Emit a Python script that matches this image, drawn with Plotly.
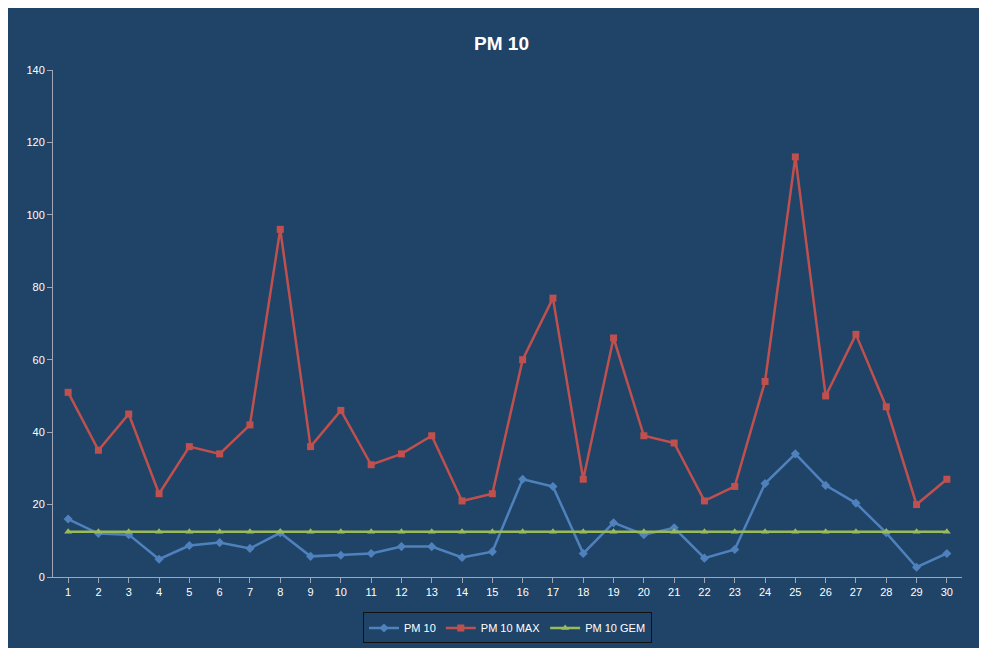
import plotly.graph_objects as go

days = list(range(1, 31))
pm10 = [16, 12, 11.7, 4.9, 8.7, 9.5, 7.9, 12.2, 5.7, 6, 6.5, 8.4, 8.4, 5.4, 7, 27, 25, 6.5, 15, 11.7, 13.6, 5.2, 7.6, 25.8, 34, 25.3, 20.4, 12.2, 2.7, 6.5]
pm10_max = [51, 35, 45, 23, 36, 34, 42, 96, 36, 46, 31, 34, 39, 21, 23, 60, 77, 27, 66, 39, 37, 21, 25, 54, 116, 50, 67, 47, 20, 27]
pm10_gem = [12.5] * 30

bg = "#1F4468"
fig = go.Figure()
fig.add_trace(go.Scatter(x=days, y=pm10, name="PM 10", mode="lines+markers",
                         line=dict(color="#4F81BD", width=2.5), marker=dict(symbol="diamond", size=7)))
fig.add_trace(go.Scatter(x=days, y=pm10_max, name="PM 10 MAX", mode="lines+markers",
                         line=dict(color="#C0504D", width=2.5), marker=dict(symbol="square", size=7)))
fig.add_trace(go.Scatter(x=days, y=pm10_gem, name="PM 10 GEM", mode="lines+markers",
                         line=dict(color="#9BBB59", width=2.5), marker=dict(symbol="triangle-up", size=7)))
fig.update_layout(
    width=987, height=648, paper_bgcolor=bg, plot_bgcolor=bg,
    title=dict(text="<b>PM 10</b>", x=0.5, y=0.955, font=dict(color="white", size=19, family="Liberation Sans")),
    font=dict(color="white", family="Liberation Sans", size=11),
    margin=dict(l=45, r=33, t=62, b=72),
    xaxis=dict(range=[0.5, 30.5], tickmode="array", tickvals=days, showgrid=False, zeroline=False,
               showline=True, linecolor="#A0A8B8", ticks="outside", tickcolor="#A0A8B8"),
    yaxis=dict(range=[0, 140], dtick=20, showgrid=False, zeroline=False,
               showline=True, linecolor="#A0A8B8", ticks="outside", tickcolor="#A0A8B8"),
    legend=dict(orientation="h", x=0.5, xanchor="center", y=-0.07, yanchor="top",
                bordercolor="#111111", borderwidth=1, font=dict(size=11)),
)
fig.write_html("out.html")
